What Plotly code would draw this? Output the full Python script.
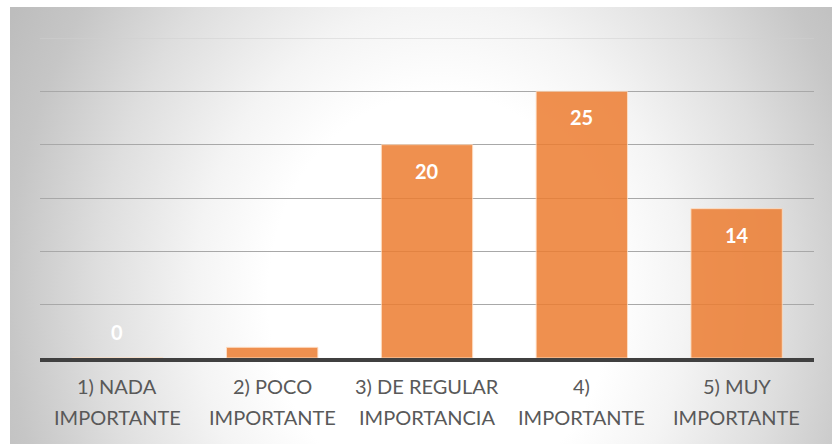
import base64
import plotly.graph_objects as go

# Survey results by level of importance
categories = ["1) NADA\nIMPORTANTE", "2) POCO\nIMPORTANTE", "3) DE REGULAR\nIMPORTANCIA",
              "4)\nIMPORTANTE", "5) MUY\nIMPORTANTE"]
counts = [0, 1, 20, 25, 14]
labels = [str(v) for v in counts]

W, H = 832, 444
L, R, T, B = 40, 18, 38, 86
plot_w, plot_h = W - L - R, H - T - B
y_max = 30

# elliptical grey-to-white backdrop for the chart area
bg_x0, bg_y0 = 10, 7
bg_w, bg_h = W - bg_x0, H - bg_y0
svg = f"""<svg xmlns='http://www.w3.org/2000/svg' width='{bg_w}' height='{bg_h}'>
<defs><radialGradient id='g' gradientUnits='userSpaceOnUse' cx='0' cy='0' r='1'
 gradientTransform='translate(430 290) scale(490 580)'>
<stop offset='0' stop-color='#ffffff'/>
<stop offset='0.35' stop-color='#ffffff'/>
<stop offset='0.5' stop-color='#f4f4f4'/>
<stop offset='0.7' stop-color='#dedede'/>
<stop offset='0.88' stop-color='#c6c6c6'/>
<stop offset='1' stop-color='#bdbdbd'/>
</radialGradient></defs>
<rect width='100%' height='100%' fill='url(#g)'/>
</svg>"""
bg_src = "data:image/svg+xml;base64," + base64.b64encode(svg.encode()).decode()

fig = go.Figure()
fig.add_trace(go.Bar(
    x=categories, y=counts, width=0.59,
    marker=dict(color="rgb(237,125,49)", opacity=0.85,
                line=dict(color="rgba(255,220,190,0.9)", width=1)),
    hoverinfo="skip",
))

# value labels just inside the top of each bar; very short bars get theirs above
px_per_unit = plot_h / y_max
for c, v, t in zip(categories, counts, labels):
    shift = -26 if v * px_per_unit > 30 else 26
    fig.add_annotation(x=c, y=v, text=f"<b>{t}</b>", showarrow=False,
                       yshift=shift, yanchor="middle",
                       font=dict(family="Lato, Carlito, sans-serif", size=20, color="white"))

# two-line category labels under the axis
for c in categories:
    for i, line in enumerate(c.split("\n")):
        fig.add_annotation(x=c, xref="x", y=0, yref="paper", text=line, showarrow=False,
                           yshift=-28 - 31 * i, yanchor="middle",
                           font=dict(family="Lato, Carlito, sans-serif", size=20, color="#595959"))

# faint gridline along the top of the value range
fig.add_shape(type="line", xref="paper", yref="y", x0=0, x1=1, y0=y_max, y1=y_max,
              line=dict(color="#cfcfcf", width=1), layer="below")

fig.update_layout(
    width=W, height=H,
    margin=dict(l=L, r=R, t=T, b=B, pad=0),
    paper_bgcolor="white", plot_bgcolor="rgba(0,0,0,0)",
    showlegend=False,
    images=[dict(source=bg_src, xref="paper", yref="paper",
                 x=(bg_x0 - L) / plot_w, y=(H - B - bg_y0) / plot_h,
                 sizex=bg_w / plot_w, sizey=bg_h / plot_h,
                 xanchor="left", yanchor="top", sizing="stretch", layer="below")],
    xaxis=dict(showticklabels=False, showgrid=False, zeroline=False,
               showline=True, linecolor="#404040", linewidth=4, layer="above traces",
               ticks=""),
    yaxis=dict(range=[0, y_max], dtick=5, showticklabels=False, showgrid=True,
               gridcolor="#a8a8a8", gridwidth=1, zeroline=False, showline=False),
)

fig.write_html("out.html")
